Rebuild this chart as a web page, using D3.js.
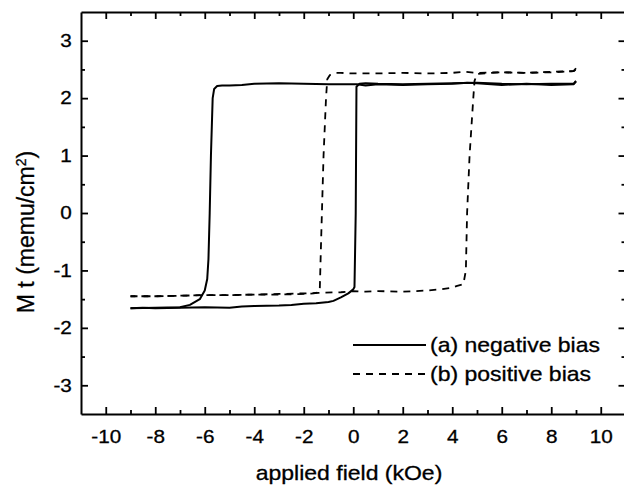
<!DOCTYPE html>
<html>
<head>
<meta charset="utf-8">
<script src="https://cdn.jsdelivr.net/npm/d3@7/dist/d3.min.js"></script>
<style>
  html, body { margin: 0; padding: 0; background: #fff; }
  svg { display: block; }
  text { font-family: "Liberation Sans", Arial, sans-serif; fill: #000; stroke: #000; stroke-width: 0.3px; }
</style>
</head>
<body>
<svg id="chart" width="624" height="487"></svg>
<script>
// ---- data (applied field in kOe, M t in memu/cm^2) ----
// (a) negative bias, solid: descending branch (+9 -> -9)
const negDownH = [9.0, 8.9, 8.0, 7.0, 6.0, 5.0, 4.6, 4.0, 3.0, 2.0, 1.0, 0.5, 0.15, -0.5, -1.0, -2.0, -3.0, -4.0, -4.5, -5.0, -5.3, -5.5, -5.62, -5.68, -5.75, -5.8, -5.85, -5.9, -6.0, -6.2, -6.6, -7.0, -8.0, -9.0];
const negDownM = [2.29, 2.24, 2.23, 2.25, 2.23, 2.26, 2.27, 2.25, 2.24, 2.23, 2.24, 2.22, 2.24, 2.24, 2.24, 2.25, 2.26, 2.25, 2.23, 2.22, 2.22, 2.21, 2.16, 2.0, 1.0, 0.0, -0.8, -1.15, -1.35, -1.5, -1.6, -1.64, -1.65, -1.66];
// (a) negative bias, solid: ascending branch (-9 -> +9)
const negUpH = [-9.0, -8.5, -8.0, -7.0, -6.0, -5.0, -4.5, -4.0, -3.0, -2.5, -2.0, -1.5, -1.0, -0.8, -0.5, -0.2, 0.0, 0.05, 0.1, 0.13, 0.25, 0.5, 1.0, 2.0, 3.0, 4.0, 5.0, 6.0, 7.0, 8.0, 8.9, 9.0];
const negUpM = [-1.66, -1.65, -1.66, -1.65, -1.64, -1.65, -1.63, -1.62, -1.61, -1.6, -1.58, -1.57, -1.55, -1.53, -1.47, -1.4, -1.33, -1.29, 0.0, 2.2, 2.25, 2.26, 2.25, 2.24, 2.25, 2.26, 2.27, 2.25, 2.24, 2.25, 2.25, 2.3];
// (b) positive bias, dashed: descending branch (+9 -> -9)
const posDownH = [9.0, 8.9, 8.0, 7.0, 6.0, 5.0, 4.5, 4.0, 3.0, 2.0, 1.0, 0.0, -0.5, -0.7, -0.95, -1.05, -1.1, -1.2, -1.3, -1.35, -1.38, -1.6, -2.0, -3.0, -4.0, -5.0, -6.0, -7.0, -8.0, -9.0];
const posDownM = [2.52, 2.47, 2.45, 2.44, 2.45, 2.44, 2.46, 2.44, 2.43, 2.44, 2.43, 2.43, 2.44, 2.44, 2.4, 2.33, 2.0, 1.0, -0.5, -1.3, -1.38, -1.4, -1.41, -1.42, -1.42, -1.43, -1.43, -1.44, -1.45, -1.45];
// (b) positive bias, dashed: ascending branch (-9 -> +9)
const posUpH = [-9.0, -8.0, -7.0, -6.0, -5.0, -4.0, -3.0, -2.0, -1.4, -0.5, 0.0, 0.5, 1.0, 2.0, 3.0, 3.5, 4.0, 4.2, 4.45, 4.55, 4.6, 4.7, 4.85, 4.9, 5.0, 5.5, 6.0, 7.0, 8.0, 8.9, 9.0];
const posUpM = [-1.45, -1.45, -1.44, -1.43, -1.43, -1.42, -1.41, -1.4, -1.39, -1.38, -1.36, -1.37, -1.36, -1.37, -1.35, -1.33, -1.3, -1.27, -1.24, -1.0, 0.0, 1.0, 2.0, 2.3, 2.42, 2.44, 2.45, 2.44, 2.46, 2.47, 2.5];

const xMajor = [-10, -8, -6, -4, -2, 0, 2, 4, 6, 8, 10];
const xMinor = [-9, -7, -5, -3, -1, 1, 3, 5, 7, 9];
const yMajor = [-3, -2, -1, 0, 1, 2, 3];
const yMinor = [-2.5, -1.5, -0.5, 0.5, 1.5, 2.5];

const seriesNames = ["(a) negative bias", "(b) positive bias"];

// ---- layout ----
const svg = d3.select("#chart");
const pLeft = 81, pRight = 625.5, pTop = 12, pBottom = 414;

const x = d3.scaleLinear().domain([-11, 11]).range([pLeft, pRight]);
const y = d3.scaleLinear().domain([-3.5, 3.5]).range([pBottom, pTop]);

const line = d3.line().x(d => x(d[0])).y(d => y(d[1]));
const zip = (a, b) => a.map((v, i) => [v, b[i]]);

// curves
const curves = [
  { pts: zip(negDownH, negDownM), dash: null },
  { pts: zip(negUpH, negUpM), dash: null },
  { pts: zip(posDownH, posDownM), dash: "7,6" },
  { pts: zip(posUpH, posUpM), dash: "7,6" }
];
svg.append("g").selectAll("path").data(curves).join("path")
  .attr("d", d => line(d.pts))
  .attr("fill", "none")
  .attr("stroke", "#000")
  .attr("stroke-width", d => d.dash ? 1.8 : 2)
  .attr("stroke-linejoin", "round")
  .attr("stroke-dasharray", d => d.dash);

// axes
function styleAxis(g) {
  g.select(".domain").attr("stroke", "#000").attr("stroke-width", 2);
  g.selectAll(".tick line").attr("stroke", "#000").attr("stroke-width", 1.8);
}
function styleMinor(g) {
  g.select(".domain").remove();
  g.selectAll("line").attr("stroke", "#000").attr("stroke-width", 1.8);
}
const sx = 1.15;

const gB = svg.append("g").attr("transform", `translate(0,${pBottom})`)
  .call(d3.axisBottom(x).tickValues(xMajor).tickSizeInner(-7).tickSizeOuter(0).tickPadding(16).tickFormat(d => String(d)));
styleAxis(gB);
gB.selectAll(".tick text").attr("font-size", 18).attr("font-family", "Liberation Sans, Arial, sans-serif")
  .attr("transform", `scale(${sx},1)`);
svg.append("g").attr("transform", `translate(0,${pBottom})`)
  .call(d3.axisBottom(x).tickValues(xMinor).tickSizeInner(-4).tickSizeOuter(0).tickFormat(""))
  .call(styleMinor);

const gT = svg.append("g").attr("transform", `translate(0,${pTop})`)
  .call(d3.axisTop(x).tickValues(xMajor).tickSizeInner(-7).tickSizeOuter(0).tickFormat(""));
styleAxis(gT);
svg.append("g").attr("transform", `translate(0,${pTop})`)
  .call(d3.axisTop(x).tickValues(xMinor).tickSizeInner(-4).tickSizeOuter(0).tickFormat(""))
  .call(styleMinor);

const gL = svg.append("g").attr("transform", `translate(${pLeft},0)`)
  .call(d3.axisLeft(y).tickValues(yMajor).tickSizeInner(-7).tickSizeOuter(0).tickPadding(8).tickFormat(d => String(d)));
styleAxis(gL);
gL.selectAll(".tick text").attr("font-size", 18).attr("font-family", "Liberation Sans, Arial, sans-serif")
  .attr("transform", `scale(${sx},1)`);
svg.append("g").attr("transform", `translate(${pLeft},0)`)
  .call(d3.axisLeft(y).tickValues(yMinor).tickSizeInner(-4).tickSizeOuter(0).tickFormat(""))
  .call(styleMinor);

const gR = svg.append("g").attr("transform", `translate(${pRight},0)`)
  .call(d3.axisRight(y).tickValues(yMajor).tickSizeInner(-7).tickSizeOuter(0).tickFormat(""));
styleAxis(gR);
svg.append("g").attr("transform", `translate(${pRight},0)`)
  .call(d3.axisRight(y).tickValues(yMinor).tickSizeInner(-4).tickSizeOuter(0).tickFormat(""))
  .call(styleMinor);

// axis titles
svg.append("text")
  .attr("transform", `translate(${(pLeft + 613) / 2 + 2},480) scale(${sx},1)`)
  .attr("text-anchor", "middle").attr("font-size", 20)
  .text("applied field (kOe)");

const yt = svg.append("text")
  .attr("transform", `translate(34,232) rotate(-90)`)
  .attr("text-anchor", "middle").attr("font-size", 23);
yt.append("tspan").text("M t (memu/cm");
yt.append("tspan").attr("font-size", 14).attr("dy", "-0.55em").text("2");
yt.append("tspan").attr("dy", "0.35em").text(")");

// legend
const legend = svg.append("g");
const legItems = [
  { name: seriesNames[0], dash: null, ly: 345, ty: 352 },
  { name: seriesNames[1], dash: "7,6", ly: 374, ty: 381 }
];
legItems.forEach(it => {
  legend.append("line").attr("x1", 353).attr("x2", 426).attr("y1", it.ly).attr("y2", it.ly)
    .attr("stroke", "#000").attr("stroke-width", it.dash ? 1.8 : 2).attr("stroke-dasharray", it.dash);
  legend.append("text").attr("transform", `translate(430,${it.ty}) scale(${sx},1)`)
    .attr("font-size", 20).text(it.name);
});
</script>
</body>
</html>
